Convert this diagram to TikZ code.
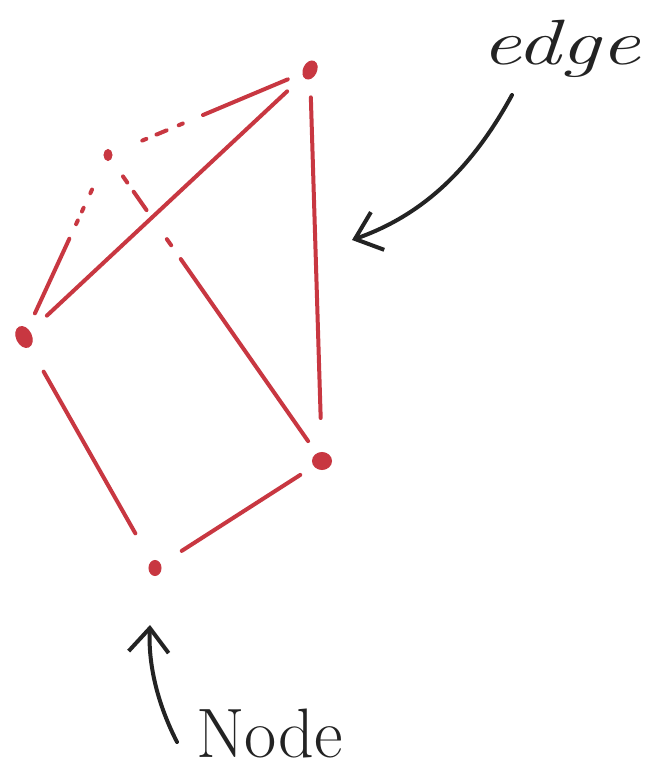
\documentclass[tikz,border=0pt]{standalone}
\usetikzlibrary{calc,arrows.meta,shapes.geometric}
\definecolor{pen}{RGB}{200,55,65}
\definecolor{ink}{RGB}{35,35,35}
\begin{document}
\begin{tikzpicture}[x=1pt,y=-1pt,
  vert/.style={ellipse,fill=pen,draw=pen,line width=1pt,inner sep=0pt},
  redline/.style={draw=pen,line width=4pt,line cap=round},
  blackarrow/.style={draw=ink,line width=4pt,line cap=round,-{Straight Barb[length=24pt,width=40pt,line width=4pt]}},
  label/.style={text=ink,inner sep=0pt}]
\useasboundingbox (0,0) rectangle (650,776);
\fill[white] (0,0) rectangle (650,776);
% vertices
\node[vert,minimum width=13pt,minimum height=19pt,rotate=-25] (A) at (310,70) {};
\node[vert,minimum width=8pt,minimum height=11pt] (B) at (108,155) {};
\node[vert,minimum width=15pt,minimum height=22pt,rotate=25] (C) at (24,337) {};
\node[vert,minimum width=19pt,minimum height=17pt] (D) at (322,461) {};
\node[vert,minimum width=12pt,minimum height=15pt] (E) at (155,568) {};
% B -- A (dashed near B, solid near A)
\draw[redline] ($(B.center)!0.17!(A.center)$) -- ($(B.center)!0.19!(A.center)$);
\draw[redline] ($(B.center)!0.24!(A.center)$) -- ($(B.center)!0.29!(A.center)$);
\draw[redline] ($(B.center)!0.35!(A.center)$) -- ($(B.center)!0.37!(A.center)$);
\draw[redline] ($(B.center)!0.47!(A.center)$) -- ($(B.center)!0.89!(A.center)$);
% B -- C
\draw[redline] ($(B.center)!0.19!(C.center)$) -- ($(B.center)!0.21!(C.center)$);
\draw[redline] ($(B.center)!0.29!(C.center)$) -- ($(B.center)!0.31!(C.center)$);
\draw[redline] ($(B.center)!0.36!(C.center)$) -- ($(B.center)!0.38!(C.center)$);
\draw[redline] ($(B.center)!0.46!(C.center)$) -- ($(B.center)!0.87!(C.center)$);
% B -- D
\draw[redline] ($(B.center)!0.07!(D.center)$) -- ($(B.center)!0.09!(D.center)$);
\draw[redline] ($(B.center)!0.12!(D.center)$) -- ($(B.center)!0.18!(D.center)$);
\draw[redline] ($(B.center)!0.275!(D.center)$) -- ($(B.center)!0.295!(D.center)$);
\draw[redline] ($(B.center)!0.34!(D.center)$) -- ($(B.center)!0.935!(D.center)$);
% solid edges
\draw[redline] ($(A.center)!0.08!(C.center)$) -- ($(A.center)!0.92!(C.center)$);
\draw[redline] ($(A.center)!0.07!(D.center)$) -- ($(A.center)!0.89!(D.center)$);
\draw[redline] ($(C.center)!0.15!(E.center)$) -- ($(C.center)!0.85!(E.center)$);
\draw[redline] ($(D.center)!0.13!(E.center)$) -- ($(D.center)!0.84!(E.center)$);
% labels
\node[label,anchor=base west,xscale=1.38] (edgelabel) at (481,65) {\fontsize{64}{66}\selectfont\itshape edge};
\node[label,anchor=base west] (nodelabel) at (196,757) {\fontsize{70}{72}\selectfont Node};
% annotation arrows
\coordinate (es) at (512,95);
\coordinate (et) at (352,240);
\draw[blackarrow] (es) .. controls (470,172) and (420,216) .. (et);
\coordinate (ns) at (177,742);
\coordinate (nt) at (150,625);
\draw[blackarrow] (ns) .. controls (158,705) and (148,665) .. (nt);
\end{tikzpicture}
\end{document}
